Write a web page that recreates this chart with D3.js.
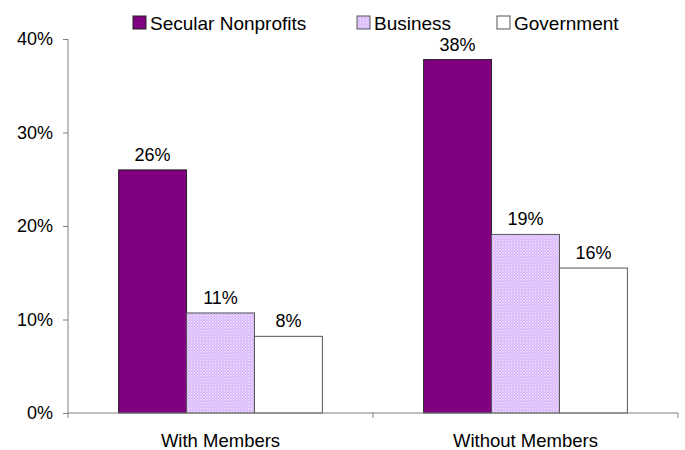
<!DOCTYPE html>
<html>
<head>
<meta charset="utf-8">
<script src="https://cdn.jsdelivr.net/npm/d3@7"></script>
<style>
  html, body { margin: 0; padding: 0; background: #fff; }
  svg { display: block; font-family: "Liberation Sans", Arial, sans-serif; }
</style>
</head>
<body>
<svg id="chart" width="685" height="450"></svg>
<script>
// Share of organizations, by sector and membership status
const categories = ["With Members", "Without Members"];
const seriesNames = ["Secular Nonprofits", "Business", "Government"];
const secularValues = [0.26, 0.378];
const businessValues = [0.107, 0.191];
const governmentValues = [0.082, 0.155];
const yTicks = [0, 0.1, 0.2, 0.3, 0.4];

const seriesValues = [secularValues, businessValues, governmentValues];

const svg = d3.select("#chart");
const fontSize = 18;
const labelSize = 18.5;
const legendSize = 19;

// Fills: solid purple, dotted lavender, plain white
const defs = svg.append("defs");
const pat = defs.append("pattern")
  .attr("id", "lavenderDots")
  .attr("patternUnits", "userSpaceOnUse")
  .attr("width", 3).attr("height", 3);
pat.append("rect").attr("width", 3).attr("height", 3).attr("fill", "#d4aef8");
pat.append("rect").attr("x", 0).attr("y", 0).attr("width", 1.5).attr("height", 1.5).attr("fill", "#f3e8ff");
pat.append("rect").attr("x", 1.5).attr("y", 1.5).attr("width", 1.5).attr("height", 1.5).attr("fill", "#e6d2ff");

const fills = ["#800080", "url(#lavenderDots)", "#ffffff"];
const strokes = ["#222222", "#555555", "#555555"];
const swatchFills = ["#800080", "url(#lavenderDots)", "#ffffff"];

const plotLeft = 68, plotRight = 678, plotTop = 39, plotBottom = 413;

const x0 = d3.scaleBand().domain(categories).range([plotLeft, plotRight]).paddingInner(0).paddingOuter(0);
const x1 = d3.scaleBand().domain(seriesNames).range([0, x0.bandwidth()]).paddingInner(0).paddingOuter(0.745);
const y = d3.scaleLinear().domain([0, 0.4]).range([plotBottom, plotTop]);

// Bars and value labels
const groups = svg.append("g").selectAll("g")
  .data(categories)
  .join("g")
  .attr("transform", d => `translate(${x0(d)},0)`);

groups.selectAll("rect")
  .data((c, ci) => seriesNames.map((s, si) => ({ s, si, v: seriesValues[si][ci] })))
  .join("rect")
  .attr("x", d => x1(d.s))
  .attr("y", d => y(d.v))
  .attr("width", x1.bandwidth())
  .attr("height", d => y(0) - y(d.v))
  .attr("fill", d => fills[d.si])
  .attr("stroke", d => strokes[d.si])
  .attr("stroke-width", 1);

groups.selectAll("text")
  .data((c, ci) => seriesNames.map((s, si) => ({ s, si, v: seriesValues[si][ci] })))
  .join("text")
  .attr("x", d => x1(d.s) + x1.bandwidth() / 2)
  .attr("y", d => y(d.v) - 9)
  .attr("text-anchor", "middle")
  .attr("font-size", fontSize)
  .attr("fill", "#000")
  .text(d => d3.format(".0%")(d.v));

// Y axis
const yAxis = d3.axisLeft(y).tickValues(yTicks).tickFormat(d3.format(".0%")).tickSize(5).tickPadding(10);
const gy = svg.append("g").attr("transform", `translate(${plotLeft},0)`).call(yAxis);
gy.select(".domain").attr("stroke", "#808080").attr("d", `M0,${plotTop}V${plotBottom}`);
gy.selectAll(".tick line").attr("stroke", "#808080");
gy.selectAll(".tick text").attr("font-size", fontSize).attr("fill", "#000")
  .attr("font-family", "Liberation Sans, Arial, sans-serif");

// X axis with boundary ticks between categories
const boundaries = [plotLeft, x0(categories[1]), plotRight];
const gx = svg.append("g");
gx.append("line")
  .attr("x1", plotLeft).attr("x2", plotRight).attr("y1", plotBottom).attr("y2", plotBottom)
  .attr("stroke", "#808080");
gx.selectAll("line.b")
  .data(boundaries)
  .join("line")
  .attr("class", "b")
  .attr("x1", d => d).attr("x2", d => d)
  .attr("y1", plotBottom).attr("y2", plotBottom + 5)
  .attr("stroke", "#808080");
gx.selectAll("text")
  .data(categories)
  .join("text")
  .attr("x", d => x0(d) + x0.bandwidth() / 2)
  .attr("y", 446.5)
  .attr("text-anchor", "middle")
  .attr("font-size", labelSize)
  .attr("fill", "#000")
  .text(d => d);

// Legend
const legendX = [133, 357, 497];
const legend = svg.append("g").selectAll("g")
  .data(seriesNames)
  .join("g")
  .attr("transform", (d, i) => `translate(${legendX[i]},16)`);
legend.append("rect")
  .attr("width", 13).attr("height", 13)
  .attr("fill", (d, i) => swatchFills[i])
  .attr("stroke", (d, i) => i === 0 ? "#222" : "#555");
legend.append("text")
  .attr("x", 17).attr("y", 13.5)
  .attr("font-size", legendSize)
  .attr("fill", "#000")
  .text(d => d);
</script>
</body>
</html>
